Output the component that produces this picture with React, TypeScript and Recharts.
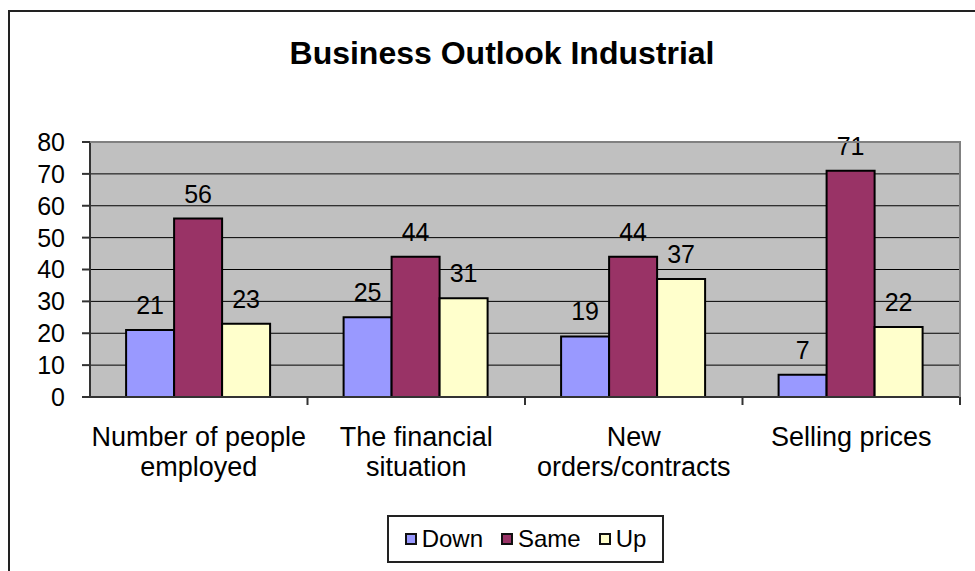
import { Bar, BarChart, CartesianGrid, LabelList, XAxis, YAxis } from "recharts";

const categories = [
  "Number of people\nemployed",
  "The financial\nsituation",
  "New\norders/contracts",
  "Selling prices",
];
const downValues = [21, 25, 19, 7];
const sameValues = [56, 44, 44, 71];
const upValues = [23, 31, 37, 22];
const yTicks = [0, 10, 20, 30, 40, 50, 60, 70, 80];

const SERIES = [
  { key: "down", label: "Down", color: "#9999FF" },
  { key: "same", label: "Same", color: "#993366" },
  { key: "up", label: "Up", color: "#FFFFCC" },
];

const FONT = "'Liberation Sans', Arial, sans-serif";
const W = 975;
const H = 571;
const PLOT = { left: 90, top: 142, right: 960, bottom: 397 };

const data = categories.map((name, i) => ({
  name,
  down: downValues[i],
  same: sameValues[i],
  up: upValues[i],
}));

// category labels on two lines, plus the tick mark on the right edge of each band
const CategoryTick = ({ x, y, payload }: any) => {
  const lines = String(payload.value).split("\n");
  const half = payload.offset || (PLOT.right - PLOT.left) / categories.length / 2;
  return (
    <g>
      <line x1={x + half} x2={x + half} y1={y} y2={y + 8} stroke="#333" strokeWidth={2} />
      <text x={x} y={y} textAnchor="middle" fill="#000" fontSize={27} fontFamily={FONT}>
        {lines.map((line, i) => (
          <tspan key={i} x={x} dy={i === 0 ? 49 : 30}>
            {line}
          </tspan>
        ))}
      </text>
    </g>
  );
};

const LegendBox = () => (
  <div
    style={{
      position: "absolute",
      left: 387,
      top: 515,
      width: 277,
      height: 48,
      boxSizing: "border-box",
      border: "2px solid #222",
      background: "#fff",
      display: "flex",
      alignItems: "center",
      justifyContent: "center",
      gap: 18,
      fontFamily: FONT,
      fontSize: 24,
      color: "#000",
    }}
  >
    {SERIES.map((s) => (
      <span key={s.key} style={{ display: "inline-flex", alignItems: "center", gap: 5 }}>
        <span
          style={{
            width: 12,
            height: 12,
            boxSizing: "border-box",
            border: "2px solid #111",
            background: s.color,
            display: "inline-block",
          }}
        />
        {s.label}
      </span>
    ))}
  </div>
);

export default function App() {
  return (
    <div style={{ position: "fixed", left: 0, top: 0, width: W, height: H, overflow: "hidden", background: "#fff" }}>
      <div
        style={{
          position: "absolute",
          left: 8,
          top: 10,
          width: 1100,
          height: 700,
          borderLeft: "2px solid #222",
          borderTop: "2px solid #222",
        }}
      />
      <div
        style={{
          position: "absolute",
          left: 0,
          top: 35,
          width: 1004,
          textAlign: "center",
          fontFamily: FONT,
          fontWeight: "bold",
          fontSize: 32,
          color: "#000",
        }}
      >
        Business Outlook Industrial
      </div>
      <div style={{ position: "absolute", left: 0, top: 0 }}>
        <BarChart
          width={W}
          height={H}
          data={data}
          margin={{ top: PLOT.top, right: W - PLOT.right, bottom: 74, left: 10 }}
          barCategoryGap="16.6%"
          barGap={0}
        >
          <CartesianGrid vertical={false} stroke="#000" strokeWidth={1} fill="#C0C0C0" fillOpacity={1} />
          <YAxis
            domain={[0, 80]}
            ticks={yTicks}
            interval={0}
            width={80}
            tick={{ fill: "#000", fontSize: 25, fontFamily: FONT }}
            tickSize={8}
            tickMargin={17}
            stroke="#333"
            strokeWidth={2}
            allowDataOverflow
          />
          <XAxis
            dataKey="name"
            height={100}
            tick={<CategoryTick />}
            tickLine={false}
            tickSize={0}
            tickMargin={0}
            interval={0}
            stroke="#333"
            strokeWidth={2}
          />
          {SERIES.map((s) => (
            <Bar
              key={s.key}
              dataKey={s.key}
              fill={s.color}
              stroke="#000"
              strokeWidth={2}
              isAnimationActive={false}
            >
              <LabelList dataKey={s.key} position="top" offset={16} fill="#000" fontSize={25} fontFamily={FONT} />
            </Bar>
          ))}
        </BarChart>
      </div>
      <div
        style={{
          position: "absolute",
          left: PLOT.left,
          top: PLOT.top - 1,
          width: PLOT.right - PLOT.left + 1,
          height: PLOT.bottom - PLOT.top + 1,
          boxSizing: "border-box",
          borderTop: "2px solid #808080",
          borderRight: "2px solid #808080",
          pointerEvents: "none",
        }}
      />
      <LegendBox />
    </div>
  );
}
